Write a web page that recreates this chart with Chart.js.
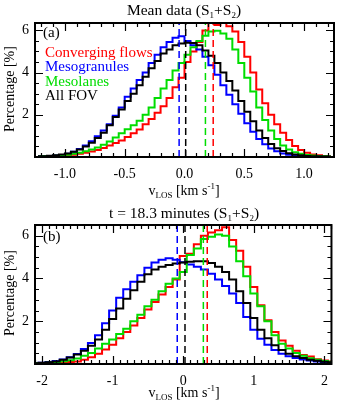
<!DOCTYPE html>
<html>
<head>
<meta charset="utf-8">
<script src="https://cdn.jsdelivr.net/npm/chart.js@4.4.1/dist/chart.umd.min.js"></script>
<style>
    html, body { margin: 0; padding: 0; background: #fff; }
    #page { position: relative; width: 337px; height: 404px; overflow: hidden;
            font-family: "Liberation Serif", "Times New Roman", serif; color: #000; }
    .panel { position: absolute; left: 0; width: 337px; height: 202px; }
    .txt { position: absolute; white-space: nowrap; font-size: 14px; line-height: 1; }
    .leg { font-size: 15px; }
    .c { transform: translate(-50%, -50%); }
    .rot { transform: translate(-50%, -50%) rotate(-90deg); }
    .sub { font-size: 9px; position: relative; top: 3px; }
    .sup { font-size: 9px; position: relative; top: -6px; }
    .title { font-size: 15.5px; }
</style>
</head>
<body>
<div id="page">
    <div class="panel" style="top:0"><canvas id="chartA" width="337" height="202"></canvas></div>
    <div class="panel" style="top:202px"><canvas id="chartB" width="337" height="202"></canvas></div>

    <div class="txt c title" style="left:184px; top:10px">Mean data (S<span class="sub">1</span>+S<span class="sub">2</span>)</div>
    <div class="txt c" style="left:184px; top:191px">v<span class="sub">LOS</span> [km s<span class="sup">-1</span>]</div>
    <div class="txt rot" style="left:10px; top:89px">Percentage [%]</div>
    <div class="txt leg" style="left:43px; top:25px">(a)</div>
    <div class="txt leg" style="left:45px; top:45px; color:#ff0000">Converging flows</div>
    <div class="txt leg" style="left:45px; top:59px; color:#0000ff">Mesogranules</div>
    <div class="txt leg" style="left:45px; top:74px; color:#00dd00">Mesolanes</div>
    <div class="txt leg" style="left:45px; top:88px">All FOV</div>

    <div class="txt c title" style="left:184px; top:213px">t = 18.3 minutes (S<span class="sub">1</span>+S<span class="sub">2</span>)</div>
    <div class="txt c" style="left:184px; top:393px">v<span class="sub">LOS</span> [km s<span class="sup">-1</span>]</div>
    <div class="txt rot" style="left:10px; top:293px">Percentage [%]</div>
    <div class="txt leg" style="left:43px; top:229px">(b)</div>
</div>

<script>
// Panel (a): mean data, bins of 0.05 km/s
const binStartA = -1.225;
const binWidthA = 0.05;
const convFlowsA = [0.02, 0.02, 0.03, 0.04, 0.06, 0.08, 0.11, 0.15, 0.2, 0.26,
    0.33, 0.43, 0.55, 0.66, 0.78, 0.95, 1.12, 1.3, 1.55, 1.8,
    2.1, 2.4, 2.8, 3.3, 3.75, 4.5, 5.0, 5.45, 6.0, 6.35,
    6.25, 6.38, 6.2, 5.95, 5.45, 4.75, 4.0, 3.2, 2.55, 2.0,
    1.55, 1.15, 0.8, 0.52, 0.33, 0.2, 0.12, 0.08, 0.05, 0.03];
const mesoGranA = [0.03, 0.04, 0.05, 0.07, 0.1, 0.15, 0.25, 0.38, 0.55, 0.75,
    0.98, 1.25, 1.55, 1.95, 2.35, 2.85, 3.25, 3.65, 4.0, 4.45,
    4.85, 5.2, 5.45, 5.65, 5.72, 5.5, 5.3, 5.1, 4.75, 4.35,
    3.9, 3.4, 2.95, 2.5, 2.05, 1.6, 1.2, 0.85, 0.6, 0.4,
    0.27, 0.17, 0.11, 0.07, 0.05, 0.03, 0.02, 0.02, 0.01, 0.01];
const mesoLanesA = [0.02, 0.03, 0.04, 0.06, 0.08, 0.11, 0.15, 0.2, 0.27, 0.35,
    0.45, 0.58, 0.74, 0.92, 1.12, 1.32, 1.5, 1.72, 2.0, 2.35,
    2.8, 3.25, 3.65, 4.1, 4.45, 4.85, 5.2, 5.5, 5.75, 5.95,
    5.98, 5.85, 5.6, 5.1, 4.45, 3.75, 3.1, 2.35, 1.75, 1.25,
    0.85, 0.55, 0.36, 0.23, 0.15, 0.1, 0.07, 0.05, 0.03, 0.02];
const allFovA = [0.03, 0.04, 0.06, 0.08, 0.12, 0.17, 0.25, 0.35, 0.5, 0.68,
    0.9, 1.15, 1.5, 1.9, 2.25, 2.65, 3.0, 3.4, 3.8, 4.2,
    4.55, 4.9, 5.1, 5.3, 5.38, 5.42, 5.4, 5.3, 5.05, 4.8,
    4.45, 4.0, 3.6, 3.15, 2.65, 2.15, 1.7, 1.25, 0.9, 0.62,
    0.42, 0.28, 0.18, 0.12, 0.08, 0.05, 0.04, 0.03, 0.02, 0.01];
// means: converging flows, mesogranules, mesolanes, all FOV
const meansA = [0.24, -0.045, 0.175, 0.01];
const xTicksA = [-1.0, -0.5, 0.0, 0.5, 1.0];
const xLabelsA = ['-1.0', '-0.5', '0.0', '0.5', '1.0'];

// Panel (b): t = 18.3 min, bins of 0.1 km/s
const binStartB = -2.1;
const binWidthB = 0.1;
const convFlowsB = [0.02, 0.03, 0.04, 0.05, 0.07, 0.09, 0.12, 0.2, 0.32, 0.48,
    0.68, 0.9, 1.2, 1.5, 1.8, 2.15, 2.55, 2.9, 3.25, 3.6,
    3.95, 5.05, 5.15, 5.6, 6.0, 6.15, 6.25, 6.4, 5.8, 5.3,
    4.55, 3.6, 2.75, 2.05, 1.5, 1.1, 0.85, 0.62, 0.42, 0.35,
    0.22, 0.16, 0.12];
const mesoGranB = [0.04, 0.06, 0.09, 0.14, 0.21, 0.32, 0.47, 0.7, 0.98, 1.35,
    1.9, 2.5, 3.1, 3.5, 3.85, 4.15, 4.5, 4.75, 4.88, 4.95,
    4.88, 4.76, 4.65, 4.55, 4.42, 4.22, 3.95, 3.65, 3.3, 2.85,
    2.2, 1.6, 1.18, 0.9, 0.66, 0.48, 0.36, 0.28, 0.21, 0.16,
    0.12, 0.08, 0.06];
const mesoLanesB = [0.03, 0.04, 0.06, 0.09, 0.13, 0.18, 0.26, 0.38, 0.52, 0.72,
    0.95, 1.15, 1.4, 1.65, 2.0, 2.3, 2.7, 3.0, 3.4, 3.75,
    4.0, 4.3, 5.1, 5.4, 5.85, 5.95, 6.05, 6.0, 5.5, 4.8,
    4.1, 3.3, 2.7, 2.0, 1.35, 0.95, 0.72, 0.52, 0.38, 0.27,
    0.2, 0.14, 0.1];
const allFovB = [0.04, 0.06, 0.08, 0.12, 0.2, 0.3, 0.45, 0.62, 0.85, 1.15,
    1.6, 2.1, 2.6, 3.05, 3.45, 3.85, 4.2, 4.42, 4.55, 4.63,
    4.7, 4.75, 4.78, 4.8, 4.8, 4.72, 4.55, 4.3, 3.95, 3.4,
    2.85, 2.15, 1.6, 1.2, 0.88, 0.65, 0.48, 0.36, 0.28, 0.2,
    0.15, 0.11, 0.08];
const meansB = [0.34, -0.085, 0.285, 0.025];
const xTicksB = [-2, -1, 0, 1, 2];
const xLabelsB = ['-2', '-1', '0', '1', '2'];

const yTicks = [2, 4, 6];
const colors = ['#ff0000', '#0000ff', '#00dd00', '#000000'];
const FONT = '"Liberation Serif", "Times New Roman", serif';

// IDL-style box with inward ticks on all four sides
const frameTicks = {
    id: 'frameTicks',
    afterDatasetsDraw(chart, args, opts) {
        const { ctx, chartArea: a, scales: { x, y } } = chart;
        const isMajor = (v, step) => Math.abs(v / step - Math.round(v / step)) < 1e-6;
        ctx.save();
        ctx.strokeStyle = '#000';
        ctx.lineWidth = 1.2;
        ctx.beginPath();
        for (let k = Math.ceil(x.min / opts.xMinor - 1e-6); k * opts.xMinor <= x.max + 1e-6; k++) {
            const v = k * opts.xMinor;
            const px = Math.round(x.getPixelForValue(v)) + 0.5;
            const len = isMajor(v, opts.xMajor) ? 8 : 4;
            ctx.moveTo(px, a.bottom); ctx.lineTo(px, a.bottom - len);
            ctx.moveTo(px, a.top); ctx.lineTo(px, a.top + len);
        }
        for (let k = 1; k * opts.yMinor <= y.max + 1e-6; k++) {
            const v = k * opts.yMinor;
            const py = Math.round(y.getPixelForValue(v)) + 0.5;
            const len = isMajor(v, opts.yMajor) ? 8 : 4;
            ctx.moveTo(a.left, py); ctx.lineTo(a.left + len, py);
            ctx.moveTo(a.right, py); ctx.lineTo(a.right - len, py);
        }
        ctx.stroke();
        ctx.lineWidth = 2;
        ctx.strokeRect(a.left, a.top, a.right - a.left, a.bottom - a.top);
        ctx.restore();
    }
};

function histPoints(start, width, values) {
    return values.map((v, i) => ({ x: start + i * width, y: v }));
}

function makePanel(id, cfg) {
    const series = [cfg.conv, cfg.gran, cfg.lanes, cfg.fov];
    const drawOrder = [4, 3, 2, 1];
    const datasets = series.map((vals, i) => ({
        data: histPoints(cfg.start, cfg.width, vals),
        borderColor: colors[i],
        borderWidth: 2,
        stepped: 'middle',
        pointRadius: 0,
        fill: false,
        order: drawOrder[i]
    }));
    cfg.means.forEach((m, i) => {
        datasets.push({
            data: [{ x: m, y: 0 }, { x: m, y: cfg.yMax }],
            borderColor: colors[i],
            borderWidth: 1.5,
            borderDash: [7, 4],
            pointRadius: 0,
            fill: false,
            order: 0
        });
    });

    new Chart(document.getElementById(id), {
        type: 'line',
        data: { datasets },
        options: {
            responsive: false,
            animation: false,
            devicePixelRatio: 1,
            layout: { padding: { top: cfg.padTop, right: cfg.padRight, left: 0, bottom: 0 } },
            plugins: {
                legend: { display: false },
                tooltip: { enabled: false },
                frameTicks: { xMinor: cfg.xMinor, xMajor: cfg.xMajor, yMinor: 0.5, yMajor: 2 }
            },
            scales: {
                x: {
                    type: 'linear',
                    min: cfg.xMin,
                    max: cfg.xMax,
                    afterFit: s => { s.height = cfg.xAxisHeight; },
                    afterBuildTicks: s => { s.ticks = cfg.xTicks.map(v => ({ value: v })); },
                    grid: { display: false, drawTicks: false },
                    border: { display: false },
                    ticks: {
                        color: '#000',
                        padding: 9,
                        maxRotation: 0,
                        autoSkip: false,
                        font: { family: FONT, size: 14 },
                        callback: (v, i) => cfg.xLabels[i]
                    }
                },
                y: {
                    min: 0,
                    max: cfg.yMax,
                    afterFit: s => { s.width = 35; },
                    afterBuildTicks: s => { s.ticks = yTicks.map(v => ({ value: v })); },
                    grid: { display: false, drawTicks: false },
                    border: { display: false },
                    ticks: {
                        color: '#000',
                        padding: 6,
                        font: { family: FONT, size: 14 },
                        callback: v => String(v)
                    }
                }
            }
        },
        plugins: [frameTicks]
    });
}

makePanel('chartA', {
    conv: convFlowsA, gran: mesoGranA, lanes: mesoLanesA, fov: allFovA,
    start: binStartA, width: binWidthA, means: meansA,
    xMin: -1.25, xMax: 1.25, xMinor: 0.1, xMajor: 0.5,
    xTicks: xTicksA, xLabels: xLabelsA,
    yMax: 6.35, padTop: 23, padRight: 3, xAxisHeight: 45
});

makePanel('chartB', {
    conv: convFlowsB, gran: mesoGranB, lanes: mesoLanesB, fov: allFovB,
    start: binStartB, width: binWidthB, means: meansB,
    xMin: -2.1, xMax: 2.1, xMinor: 0.1, xMajor: 1,
    xTicks: xTicksB, xLabels: xLabelsB,
    yMax: 6.5, padTop: 23, padRight: 4, xAxisHeight: 40
});
</script>
</body>
</html>
